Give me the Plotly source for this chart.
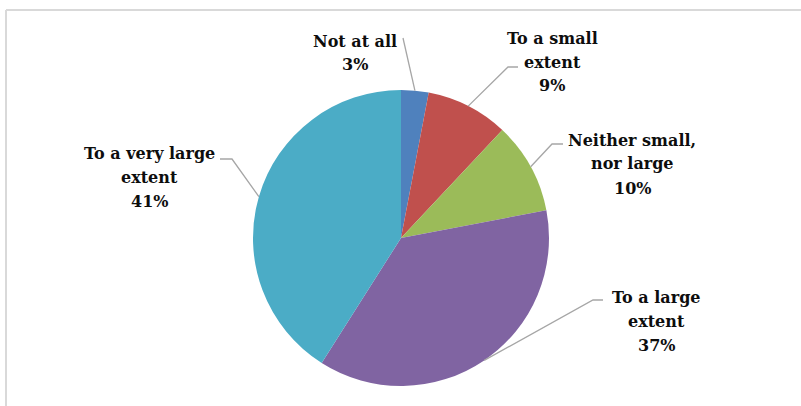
import math
import plotly.graph_objects as go

# Survey answers and their shares (%)
categories = ["Not at all", "To a small extent", "Neither small, nor large",
              "To a large extent", "To a very large extent"]
label_lines = [["Not at all"], ["To a small", "extent"], ["Neither small,", "nor large"],
               ["To a large", "extent"], ["To a very large", "extent"]]
shares = [3, 9, 10, 37, 41]

colors = ["#4F81BD", "#C0504D", "#9BBB59", "#8064A2", "#4BACC6"]

W, H = 801, 406
CX, CY, R = 401, 238, 148  # pie centre and radius in pixels
LINE_GAP = 24              # label line pitch in pixels


def px(x):
    return x / W


def py(y):
    return 1 - y / H


fig = go.Figure()
fig.add_trace(go.Pie(
    labels=categories,
    values=shares,
    sort=False,
    direction="clockwise",
    rotation=0,
    marker=dict(colors=colors, line=dict(width=0)),
    textinfo="none",
    hoverinfo="label+percent",
    showlegend=False,
    domain=dict(x=[px(CX - R), px(CX + R)], y=[py(CY + R), py(CY - R)]),
))

# Label placement: (text centre x, first-line y, elbow x, elbow y, tail x, tail y)
label_layout = [
    (355, 41, None, None, 403, 38),
    (552, 38, 508, 67, 518, 67),
    (632, 140, 552, 144, 563, 144),
    (656, 297, 593, 300, 603, 300),
    (149, 153, 232, 159, 220, 159),
]

total = sum(shares)
cum = 0
shapes = []
annotations = []
for i, v in enumerate(shares):
    mid = (cum + v / 2) / total * 2 * math.pi
    cum += v
    ax = CX + R * math.sin(mid)
    ay = CY - R * math.cos(mid)
    tx, ty, ex, ey, endx, endy = label_layout[i]
    pts = [(ax, ay)]
    if ex is not None:
        pts.append((ex, ey))
    pts.append((endx, endy))
    path = "M " + " L ".join(f"{px(x)},{py(y)}" for x, y in pts)
    shapes.append(dict(type="path", xref="paper", yref="paper", path=path,
                       line=dict(color="#A6A6A6", width=1.3)))
    lines = label_lines[i] + [f"{v}%"]
    for k, line in enumerate(lines):
        annotations.append(dict(
            x=px(tx), y=py(ty + k * LINE_GAP), xref="paper", yref="paper",
            text=f"<b>{line}</b>",
            showarrow=False, align="center", xanchor="center", yanchor="middle",
            font=dict(family="DejaVu Serif", size=16, color="#0D0D0D"),
        ))

# Chart-area frame (top and left edges)
shapes.append(dict(type="line", xref="paper", yref="paper",
                   x0=px(6), y0=py(10), x1=1.0, y1=py(10),
                   line=dict(color="#D9D9D9", width=2)))
shapes.append(dict(type="line", xref="paper", yref="paper",
                   x0=px(6), y0=py(10), x1=px(6), y1=0.0,
                   line=dict(color="#D9D9D9", width=2)))

fig.update_layout(
    width=W, height=H,
    margin=dict(l=0, r=0, t=0, b=0),
    paper_bgcolor="white",
    plot_bgcolor="white",
    shapes=shapes,
    annotations=annotations,
)

fig.write_html("out.html")
